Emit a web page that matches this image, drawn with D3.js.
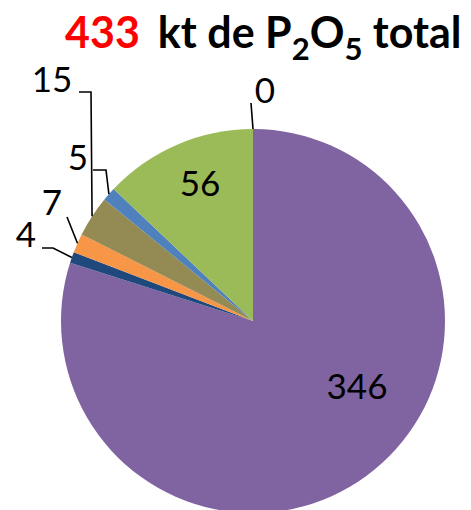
<!DOCTYPE html>
<html>
<head>
<meta charset="utf-8">
<script src="https://cdn.jsdelivr.net/npm/d3@7/dist/d3.min.js"></script>
<style>
body { margin: 0; background: #fff; }
svg text { font-family: Lato, "Open Sans", sans-serif; }
</style>
</head>
<body>
<script>
var width = 471;
var height = 510;

// data, clockwise from 12 o'clock
var categories = ["a", "b", "c", "d", "e", "f", "g"];
var values = [346, 4, 7, 15, 5, 56, 0];
var colors = ["#8064A2", "#1F497D", "#F79646", "#948A54", "#4F81BD", "#9BBB59", "#C0504D"];
var total = 433;

// label layout: inside slice, or label position + leader elbow
var labelLayout = [
	{inside: true, x: 357, y: 399},
	{x: 26, y: 247, line: [[42, 248], [53, 248]]},
	{x: 52, y: 215, line: [[67, 217]]},
	{x: 52, y: 92, line: [[79, 92], [91, 92]]},
	{x: 78, y: 170, line: [[93, 170], [106, 170]]},
	{inside: true, x: 200, y: 196},
	{x: 265, y: 103, line: [[251, 103]]}
];

var cx = 253, cy = 321, r = 192;

var svg = d3.select("body").append("svg")
	.attr("width", width)
	.attr("height", height);

var pie = d3.pie().sort(null).value(function(d) { return d; });
var arcs = pie(values);
var arc = d3.arc().innerRadius(0).outerRadius(r);

var g = svg.append("g").attr("transform", "translate(" + cx + "," + cy + ")");

g.selectAll("path.slice")
	.data(arcs)
	.enter().append("path")
	.attr("class", "slice")
	.attr("d", arc)
	.style("fill", function(d, i) { return colors[i]; });

// leader lines
var line = d3.line();
arcs.forEach(function(d, i) {
	var lay = labelLayout[i];
	if (lay.inside) return;
	var mid = (d.startAngle + d.endAngle) / 2;
	var end = [cx + r * Math.sin(mid), cy - r * Math.cos(mid)];
	var pts = lay.line.concat([end]);
	svg.append("path")
		.attr("d", line(pts))
		.style("fill", "none")
		.style("stroke", "#000")
		.style("stroke-width", 1.6);
});

// value labels
svg.selectAll("text.val")
	.data(arcs)
	.enter().append("text")
	.attr("class", "val")
	.attr("x", function(d, i) { return labelLayout[i].x; })
	.attr("y", function(d, i) { return labelLayout[i].y; })
	.attr("text-anchor", "middle")
	.style("font-size", "35px")
	.style("fill", "#000")
	.text(function(d) { return d.data; });

// title
var title = svg.append("text")
	.attr("x", 65)
	.attr("y", 48)
	.style("font-size", "43px")
	.style("font-weight", "bold");
title.append("tspan").style("fill", "#FF0000").text(total);
title.append("tspan").attr("dx", 18).text("kt de P");
title.append("tspan").attr("dy", 12).style("font-size", "31px").text("2");
title.append("tspan").attr("dy", -12).text("O");
title.append("tspan").attr("dy", 12).style("font-size", "31px").text("5");
title.append("tspan").attr("dy", -12).text(" total");
</script>
</body>
</html>
